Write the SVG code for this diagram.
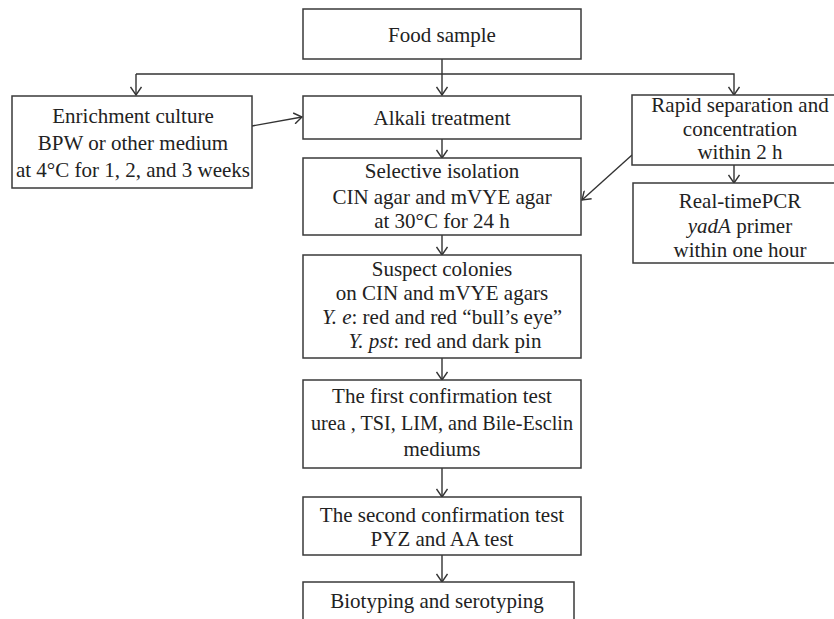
<svg xmlns="http://www.w3.org/2000/svg" width="834" height="619" viewBox="0 0 834 619">
<defs>
<style>
.box{fill:#fff;stroke:#3a3a3a;stroke-width:1.5}
.t{font-family:"Liberation Serif","Times New Roman",serif;font-size:21px;fill:#222;text-anchor:middle}
.i{font-style:italic}
.c{fill:none;stroke:#333;stroke-width:1.4}
</style>
<marker id="ah" markerWidth="12" markerHeight="12" refX="9" refY="6" orient="auto" markerUnits="userSpaceOnUse">
<path d="M1,0.5 L9,6 L1,11.5" fill="none" stroke="#333" stroke-width="1.4"/>
</marker>
</defs>
<rect width="834" height="619" fill="#fff"/>
<g id="connectors">
<line class="c" x1="442" y1="59" x2="442" y2="95" marker-end="url(#ah)"/>
<polyline class="c" points="136,74 734,74 734,95" marker-end="url(#ah)"/>
<line class="c" x1="136" y1="74" x2="136" y2="95" marker-end="url(#ah)"/>
<line class="c" x1="252" y1="126" x2="302" y2="117" marker-end="url(#ah)"/>
<line class="c" x1="442" y1="139" x2="442" y2="158" marker-end="url(#ah)"/>
<line class="c" x1="632" y1="155" x2="582" y2="200" marker-end="url(#ah)"/>
<line class="c" x1="734" y1="165" x2="734" y2="183" marker-end="url(#ah)"/>
<line class="c" x1="442" y1="235" x2="442" y2="255" marker-end="url(#ah)"/>
<line class="c" x1="442" y1="358" x2="442" y2="380" marker-end="url(#ah)"/>
<line class="c" x1="442" y1="468" x2="442" y2="497" marker-end="url(#ah)"/>
<line class="c" x1="442" y1="555" x2="442" y2="582" marker-end="url(#ah)"/>
</g>
<g id="food">
<rect class="box" x="303" y="9" width="278" height="50"/>
<text class="t" x="442" y="42">Food sample</text>
</g>
<g id="enrichment">
<rect class="box" x="12" y="96" width="240" height="92"/>
<text class="t" x="133" y="123">Enrichment culture</text>
<text class="t" x="133" y="150">BPW or other medium</text>
<text class="t" x="133" y="177">at 4°C for 1, 2, and 3 weeks</text>
</g>
<g id="alkali">
<rect class="box" x="303" y="96" width="278" height="43"/>
<text class="t" x="442" y="125">Alkali treatment</text>
</g>
<g id="rapid">
<rect class="box" x="632" y="95" width="220" height="70"/>
<text class="t" x="740" y="112">Rapid separation and</text>
<text class="t" x="740" y="136">concentration</text>
<text class="t" x="740" y="159">within 2 h</text>
</g>
<g id="realtime">
<rect class="box" x="633" y="183" width="220" height="80"/>
<text class="t" x="740" y="208">Real-timePCR</text>
<text class="t" x="740" y="233"><tspan class="i">yadA</tspan> primer</text>
<text class="t" x="740" y="257">within one hour</text>
</g>
<g id="selective">
<rect class="box" x="303" y="158" width="278" height="77"/>
<text class="t" x="442" y="178">Selective isolation</text>
<text class="t" x="442" y="204">CIN agar and mVYE agar</text>
<text class="t" x="442" y="228">at 30°C for 24 h</text>
</g>
<g id="suspect">
<rect class="box" x="303" y="255" width="278" height="103"/>
<text class="t" x="442" y="276">Suspect colonies</text>
<text class="t" x="442" y="300">on CIN and mVYE agars</text>
<text class="t" x="442" y="324"><tspan class="i">Y. e</tspan>: red and red “bull’s eye”</text>
<text class="t" x="445" y="348"><tspan class="i">Y. pst</tspan>: red and dark pin</text>
</g>
<g id="first">
<rect class="box" x="303" y="380" width="278" height="88"/>
<text class="t" x="442" y="403">The first confirmation test</text>
<text class="t" x="442" y="430" textLength="262" lengthAdjust="spacingAndGlyphs">urea , TSI, LIM, and Bile-Esclin</text>
<text class="t" x="442" y="456">mediums</text>
</g>
<g id="second">
<rect class="box" x="303" y="497" width="278" height="58"/>
<text class="t" x="442" y="522">The second confirmation test</text>
<text class="t" x="442" y="546">PYZ and AA test</text>
</g>
<g id="biotyping">
<rect class="box" x="303" y="582" width="271" height="50"/>
<text class="t" x="437" y="608">Biotyping and serotyping</text>
</g>
</svg>
